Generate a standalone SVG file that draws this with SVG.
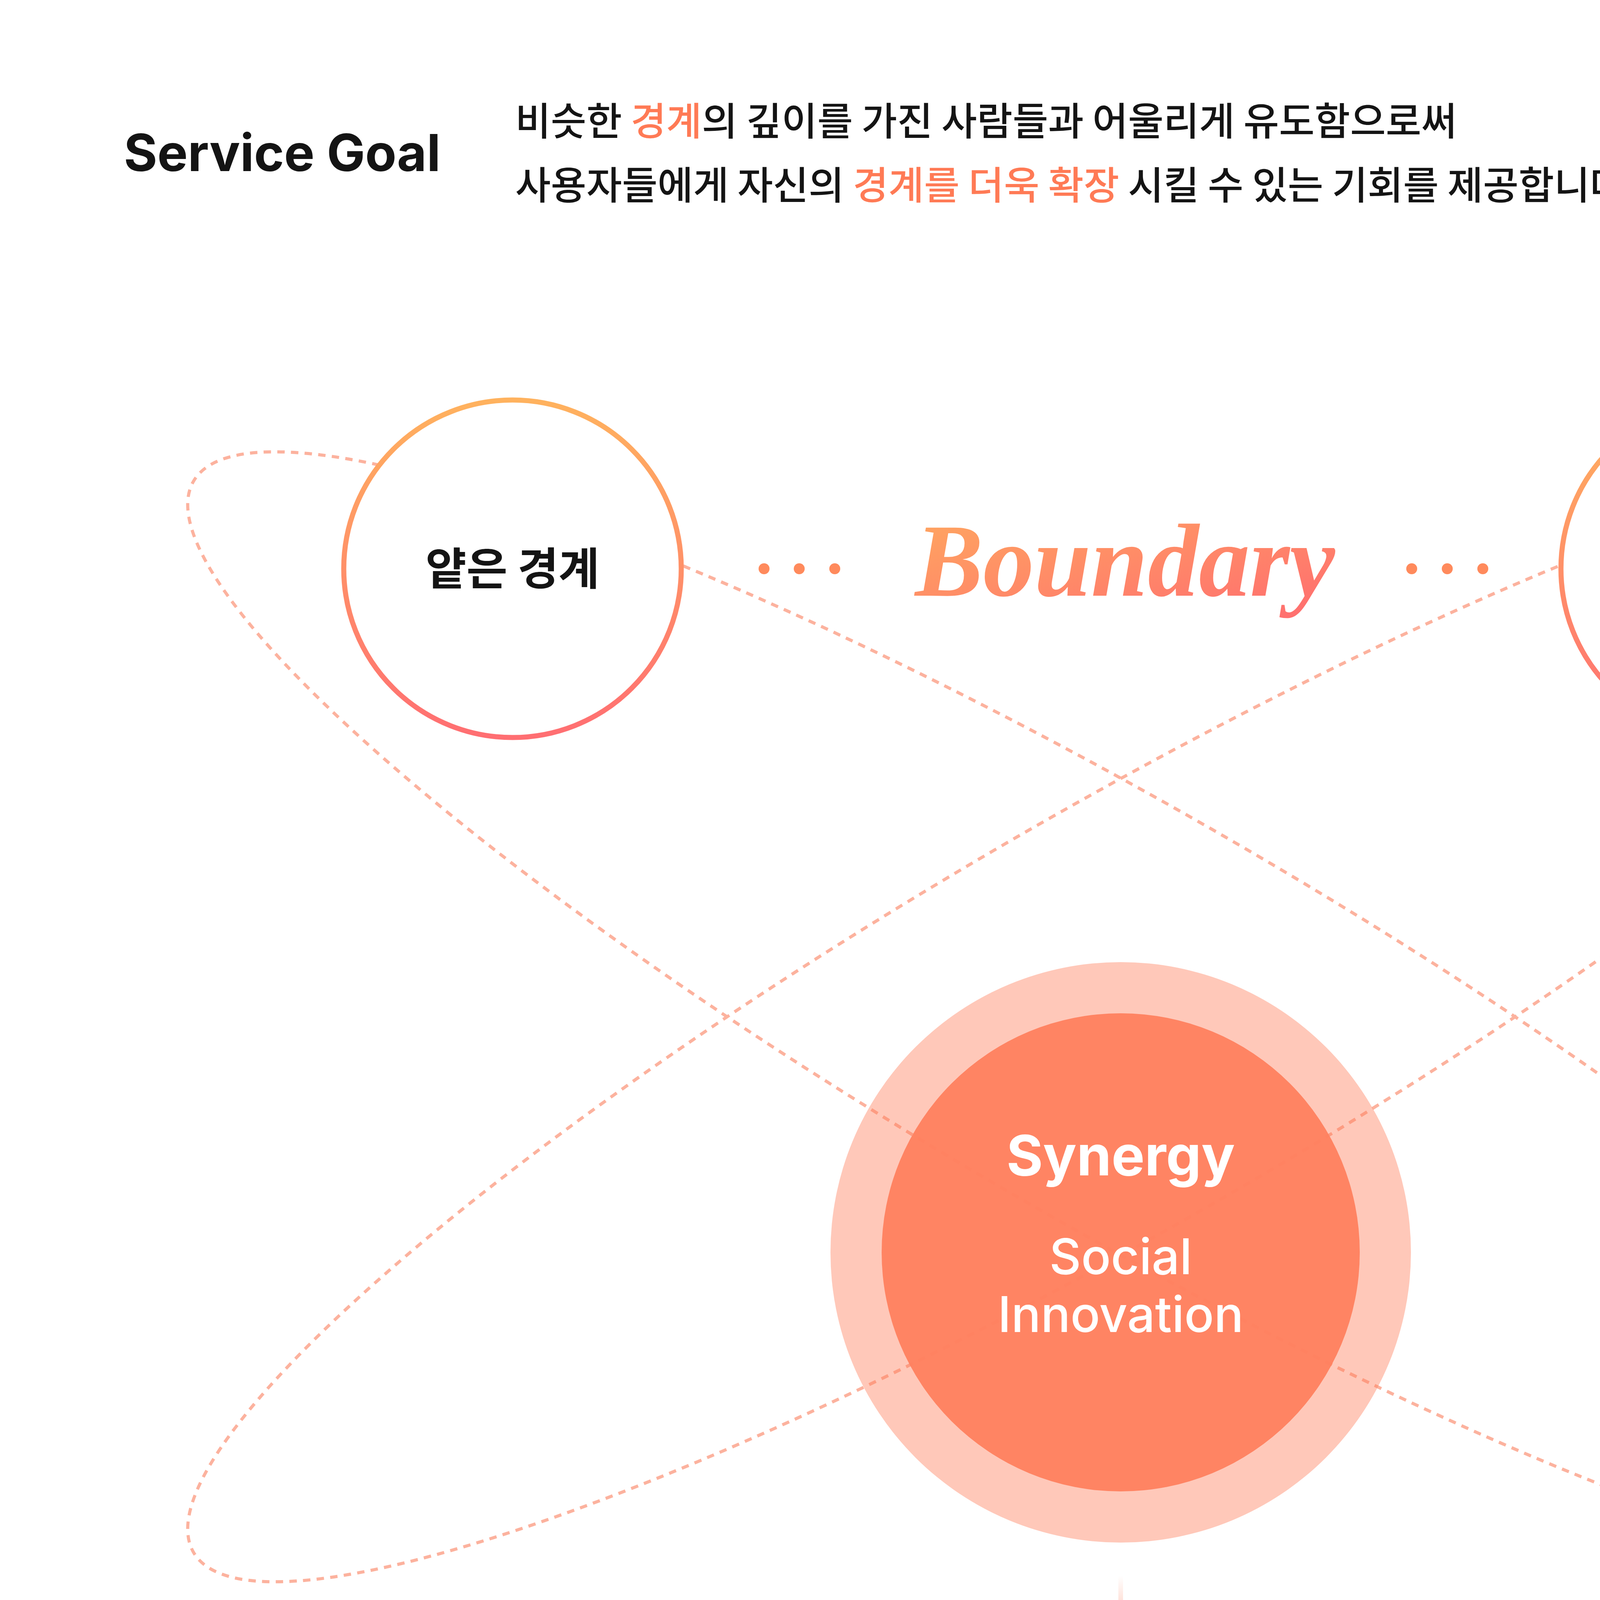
<svg xmlns="http://www.w3.org/2000/svg" width="5760" height="5214" viewBox="0 0 5760 5214">
  <style>
    .kr { font-family: 'Noto Sans CJK KR', 'Noto Sans', sans-serif; }
    .lat { font-family: Inter, 'Noto Sans CJK KR', 'Liberation Sans', sans-serif; }
    .dark { fill: #141414; }
    .hl { fill: #FF7A55; }
    .orbit { fill: none; stroke: #FCB29E; stroke-width: 8; stroke-dasharray: 19 16; }
    .ring { fill: #FFFFFF; stroke: url(#ringGrad); stroke-width: 13; }
    .dot { fill: #FF8A5C; }
    .white { fill: #FFFFFF; }
  </style>
  <defs>
    <linearGradient id="ringGrad" x1="0" y1="0" x2="0" y2="1">
      <stop offset="0" stop-color="#FFB25E"/>
      <stop offset="1" stop-color="#FF6E72"/>
    </linearGradient>
    <linearGradient id="boundaryGrad" x1="0" y1="0" x2="1" y2="1">
      <stop offset="0" stop-color="#FFA95F"/>
      <stop offset="1" stop-color="#FF6C70"/>
    </linearGradient>
    <linearGradient id="arrowGrad" gradientUnits="userSpaceOnUse" x1="0" y1="4034" x2="0" y2="4317">
      <stop offset="0" stop-color="#FF7F5C" stop-opacity="0"/>
      <stop offset="1" stop-color="#FF7F5C" stop-opacity="1"/>
    </linearGradient>
    <marker id="arrowHead" markerUnits="userSpaceOnUse" viewBox="0 0 59 69" refX="0" refY="34.5" markerWidth="59" markerHeight="69" orient="auto">
      <path d="M0,0 L59,34.5 L0,69 Z" fill="#FF7B59"/>
    </marker>
  </defs>

  <rect x="0" y="0" width="5760" height="5214" fill="#FFFFFF"/>

  <!-- Header -->
  <g id="header">
    <text class="lat dark" x="317" y="438" font-size="131" font-weight="700">Service Goal</text>
    <text class="kr dark" x="1319" y="346" font-size="99" font-weight="500">비슷한 <tspan class="hl">경계</tspan>의 깊이를 가진 사람들과 어울리게 유도함으로써</text>
    <text class="kr dark" x="1319" y="510" font-size="99" font-weight="500">사용자들에게 자신의 <tspan class="hl">경계를 더욱 확장</tspan> 시킬 수 있는 기회를 제공합니다.</text>
  </g>

  <!-- Connectors: orbits and arrow -->
  <g id="connectors">
    <ellipse class="orbit" cx="2870" cy="2603" rx="2742" ry="532" transform="rotate(30 2870 2603)"/>
    <ellipse class="orbit" cx="2870" cy="2603" rx="2742" ry="532" transform="rotate(-30 2870 2603)"/>
    <line x1="2869" y1="4034" x2="2869" y2="4317" stroke="url(#arrowGrad)" stroke-width="12" marker-end="url(#arrowHead)"/>
  </g>

  <!-- Shallow boundary node -->
  <g id="node-shallow">
    <circle class="ring" cx="1312" cy="1456" r="432"/>
    <text class="kr dark" x="1312" y="1497" font-size="114" font-weight="700" text-anchor="middle">얕은 경계</text>
  </g>

  <!-- Deep boundary node -->
  <g id="node-deep">
    <circle class="ring" cx="4428" cy="1456" r="432"/>
    <text class="kr dark" x="4428" y="1497" font-size="114" font-weight="700" text-anchor="middle">깊은 경계</text>
  </g>

  <!-- Boundary label with dots -->
  <g id="boundary-label">
    <circle class="dot" cx="1956" cy="1456" r="14"/>
    <circle class="dot" cx="2046" cy="1456" r="14"/>
    <circle class="dot" cx="2137" cy="1456" r="14"/>
    <text x="2880" y="1525" font-family="'Liberation Serif', 'DejaVu Serif', serif" font-style="italic" font-weight="700" font-size="266" text-anchor="middle" textLength="1075" lengthAdjust="spacingAndGlyphs" fill="url(#boundaryGrad)">Boundary</text>
    <circle class="dot" cx="3614" cy="1456" r="14"/>
    <circle class="dot" cx="3705" cy="1456" r="14"/>
    <circle class="dot" cx="3796" cy="1456" r="14"/>
  </g>

  <!-- Synergy node -->
  <g id="node-synergy">
    <circle cx="2869" cy="3206" r="743" fill="#FF7F5C" fill-opacity="0.43"/>
    <circle cx="2869" cy="3206" r="612" fill="#FF8160" fill-opacity="0.97"/>
    <text class="lat white" x="2869" y="3009" font-size="143" font-weight="700" text-anchor="middle">Synergy</text>
    <text class="lat white" x="2869" y="3262" font-size="126" font-weight="500" text-anchor="middle">Social</text>
    <text class="lat white" x="2869" y="3410" font-size="126" font-weight="500" text-anchor="middle">Innovation</text>
  </g>

  <!-- Result node -->
  <g id="node-result">
    <rect x="1525" y="4528" width="2689" height="381" rx="190.5" ry="190.5" fill="#FDF1EE" stroke="url(#ringGrad)" stroke-width="8"/>
    <text class="kr dark" x="2869" y="4764" font-size="99" font-weight="500" text-anchor="middle">소외 지역을 배경으로 사람들이 연결되며 지역 활성화</text>
  </g>
</svg>
